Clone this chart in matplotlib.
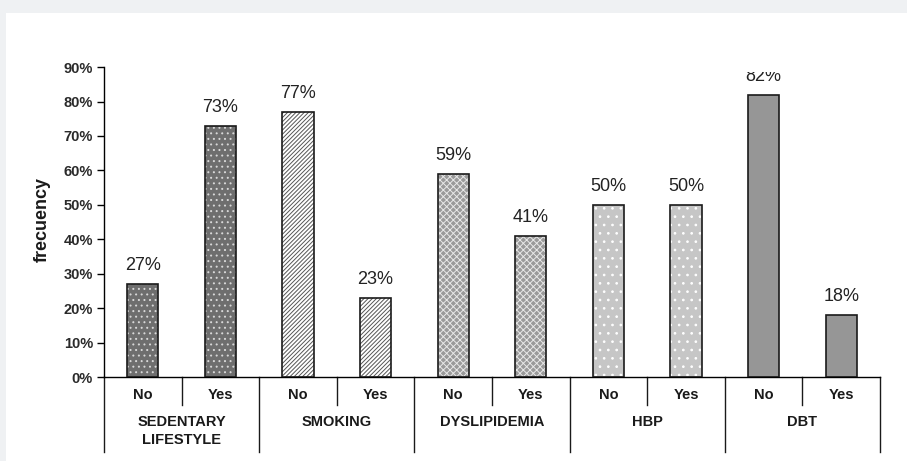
import numpy as np
import matplotlib.pyplot as plt
from matplotlib.patches import Rectangle
from matplotlib.lines import Line2D
from matplotlib.transforms import Bbox, TransformedBbox, offset_copy

# datos
groups = ["SEDENTARY\nLIFESTYLE", "SMOKING", "DYSLIPIDEMIA", "HBP", "DBT"]
answers = ["No", "Yes"]
no_vals = [0.27, 0.77, 0.59, 0.50, 0.82]
yes_vals = [0.73, 0.23, 0.41, 0.50, 0.18]
yticks = [0.0, 0.1, 0.2, 0.3, 0.4, 0.5, 0.6, 0.7, 0.8, 0.9]

# estilo de relleno por grupo
faces = ["#6e6e6e", "#ffffff", "#9a9a9a", "#c6c6c6", "#969696"]
hatch_cols = ["#d8d8d8", "#555555", "#e8e8e8", "#ffffff", "#969696"]
hatches = ["...", "////////", "xxxxx", "..", ""]

plt.rcParams['font.family'] = ['Liberation Sans', 'DejaVu Sans']
plt.rcParams['hatch.linewidth'] = 0.7

fig = plt.figure(figsize=(9.07, 4.61), dpi=100, facecolor="#eff1f3")
fig.patches.append(Rectangle((6 / 907, 0), 1, 448 / 461, transform=fig.transFigure,
                             facecolor="white", edgecolor="none", zorder=-1))

ax = fig.add_axes([104 / 907, 1 - 377 / 461, 776 / 907, 315.1 / 461])
ax.set_facecolor("none")

# las etiquetas se recortan arriba como en el original (82%)
clip = TransformedBbox(Bbox([[0, 0], [10, 0.886]]), ax.transData)
lbl_tr = offset_copy(ax.transData, fig=fig, x=0, y=7, units="points")

for g in range(len(groups)):
    vals = [no_vals[g], yes_vals[g]]
    xs = [2 * g + 0.5, 2 * g + 1.5]
    ax.bar(xs, vals, width=0.4, color=faces[g], hatch=hatches[g],
           edgecolor=hatch_cols[g], linewidth=0, zorder=2)
    ax.bar(xs, vals, width=0.4, facecolor="none", edgecolor="#1a1a1a",
           linewidth=1.2, zorder=3)
    for x, v in zip(xs, vals):
        t = ax.text(x, v, f"{round(v * 100)}%", transform=lbl_tr,
                    ha="center", va="bottom", fontsize=13, color="#222222", zorder=4)
        t.set_clip_box(clip)
        t.set_clip_on(True)

ax.set_xlim(0, 10)
ax.set_ylim(0, 0.915)
ax.spines["top"].set_visible(False)
ax.spines["right"].set_visible(False)
ax.spines["left"].set_bounds(0, 0.9)
ax.spines["left"].set_linewidth(1.0)
ax.spines["bottom"].set_linewidth(1.0)
ax.set_yticks(yticks)
ax.set_yticklabels([f"{int(t * 100)}%" for t in yticks], fontweight="bold",
                   fontsize=10.5, color="#2a2a2a")
ax.tick_params(axis="y", direction="out", length=5, width=1.0, pad=3)
ax.set_xticks([])

ax.set_ylabel("frecuency", fontsize=13, fontweight="bold", color="#1a1a1a", labelpad=9)

# etiquetas del eje x en dos niveles
tr = ax.get_xaxis_transform()
for g in range(len(groups)):
    for k, a in enumerate(answers):
        ax.text(2 * g + k + 0.5, -0.057, a, transform=tr, ha="center", va="center",
                fontsize=10.5, fontweight="bold", color="#1a1a1a")
    ax.text(2 * g + 1, -0.122, groups[g], transform=tr, ha="center", va="top",
            fontsize=10.5, fontweight="bold", color="#1a1a1a", linespacing=1.35)
    ax.add_line(Line2D([2 * g + 1, 2 * g + 1], [0, -0.089], transform=tr,
                       color="#1a1a1a", lw=1.0, clip_on=False))
for b in range(0, 11, 2):
    ax.add_line(Line2D([b, b], [0, -0.238], transform=tr,
                       color="#1a1a1a", lw=1.0, clip_on=False))

plt.savefig("out.png", dpi=100, facecolor=fig.get_facecolor())
